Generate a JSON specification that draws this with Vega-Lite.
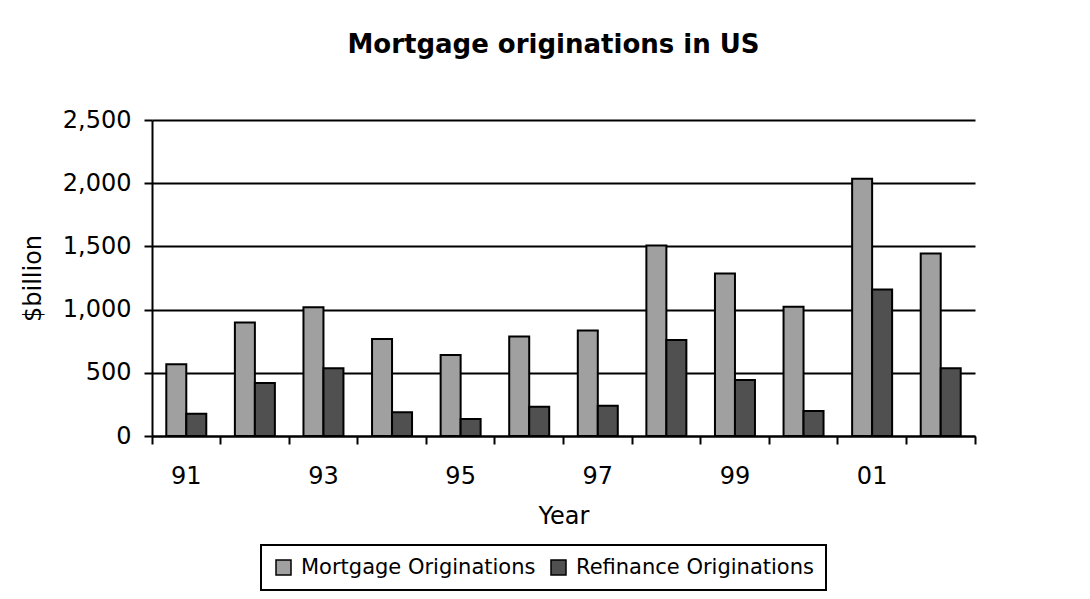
{
  "$schema": "https://vega.github.io/schema/vega-lite/v6.json",
  "autosize": {"type": "none"},
  "padding": {"left": 152, "top": 120, "right": 115, "bottom": 163},
  "width": 823,
  "height": 316,
  "background": "white",
  "config": {
    "font": "DejaVu Sans",
    "view": {"stroke": null},
    "legend": {"strokeWidth": 2}
  },
  "title": {
    "text": "Mortgage originations in US",
    "fontSize": 26,
    "fontWeight": "bold",
    "color": "black",
    "anchor": "middle",
    "frame": "group",
    "dx": -10,
    "offset": 50
  },
  "data": {
    "values": [
      {"year": "91", "series": "Mortgage Originations", "value": 567},
      {"year": "91", "series": "Refinance Originations", "value": 177},
      {"year": "92", "series": "Mortgage Originations", "value": 897},
      {"year": "92", "series": "Refinance Originations", "value": 420},
      {"year": "93", "series": "Mortgage Originations", "value": 1019},
      {"year": "93", "series": "Refinance Originations", "value": 536},
      {"year": "94", "series": "Mortgage Originations", "value": 768},
      {"year": "94", "series": "Refinance Originations", "value": 187},
      {"year": "95", "series": "Mortgage Originations", "value": 641},
      {"year": "95", "series": "Refinance Originations", "value": 135},
      {"year": "96", "series": "Mortgage Originations", "value": 787},
      {"year": "96", "series": "Refinance Originations", "value": 232},
      {"year": "97", "series": "Mortgage Originations", "value": 834},
      {"year": "97", "series": "Refinance Originations", "value": 240},
      {"year": "98", "series": "Mortgage Originations", "value": 1507},
      {"year": "98", "series": "Refinance Originations", "value": 760},
      {"year": "99", "series": "Mortgage Originations", "value": 1286},
      {"year": "99", "series": "Refinance Originations", "value": 443},
      {"year": "00", "series": "Mortgage Originations", "value": 1022},
      {"year": "00", "series": "Refinance Originations", "value": 198},
      {"year": "01", "series": "Mortgage Originations", "value": 2035},
      {"year": "01", "series": "Refinance Originations", "value": 1159},
      {"year": "02", "series": "Mortgage Originations", "value": 1444},
      {"year": "02", "series": "Refinance Originations", "value": 536}
    ]
  },
  "mark": {"type": "bar", "stroke": "black", "strokeWidth": 2},
  "encoding": {
    "x": {
      "field": "year",
      "type": "nominal",
      "sort": ["91","92","93","94","95","96","97","98","99","00","01","02"],
      "scale": {"paddingInner": 0, "paddingOuter": 0},
      "axis": {
        "title": "Year",
        "titleFontSize": 24,
        "titleFontWeight": "normal",
        "titleColor": "black",
        "titlePadding": 16,
        "labelAngle": 0,
        "labelFontSize": 24,
        "labelColor": "black",
        "labelPadding": 20,
        "labelExpr": "indexof(['91','93','95','97','99','01'], datum.value) >= 0 ? datum.label : ''",
        "bandPosition": 1,
        "tickExtra": true,
        "tickSize": 8,
        "tickWidth": 2,
        "tickColor": "black",
        "domainColor": "black",
        "domainWidth": 2,
        "grid": false
      }
    },
    "xOffset": {
      "field": "series",
      "type": "nominal",
      "scale": {"paddingInner": 0, "paddingOuter": 0.715}
    },
    "y": {
      "field": "value",
      "type": "quantitative",
      "scale": {"domain": [0, 2500], "nice": false},
      "axis": {
        "title": "$billion",
        "titleFontSize": 24,
        "titleFontWeight": "normal",
        "titleColor": "black",
        "titlePadding": 17,
        "values": [0, 500, 1000, 1500, 2000, 2500],
        "format": ",d",
        "labelFontSize": 24,
        "labelColor": "black",
        "labelPadding": 13,
        "tickSize": 8,
        "tickWidth": 2,
        "tickColor": "black",
        "domainColor": "black",
        "domainWidth": 2,
        "grid": true,
        "gridColor": "black",
        "gridWidth": 2
      }
    },
    "color": {
      "field": "series",
      "type": "nominal",
      "scale": {
        "domain": ["Mortgage Originations", "Refinance Originations"],
        "range": ["#a0a0a0", "#505050"]
      },
      "legend": {
        "title": null,
        "orient": "none",
        "direction": "horizontal",
        "legendX": 109,
        "legendY": 425,
        "strokeColor": "black",
        "padding": 12,
        "columnPadding": 12,
        "labelFontSize": 21,
        "labelLimit": 400,
        "labelColor": "black",
        "labelOffset": 7,
        "symbolType": "square",
        "symbolSize": 225,
        "symbolStrokeColor": "black",
        "symbolStrokeWidth": 1.5,
        "symbolOpacity": 1
      }
    }
  }
}
